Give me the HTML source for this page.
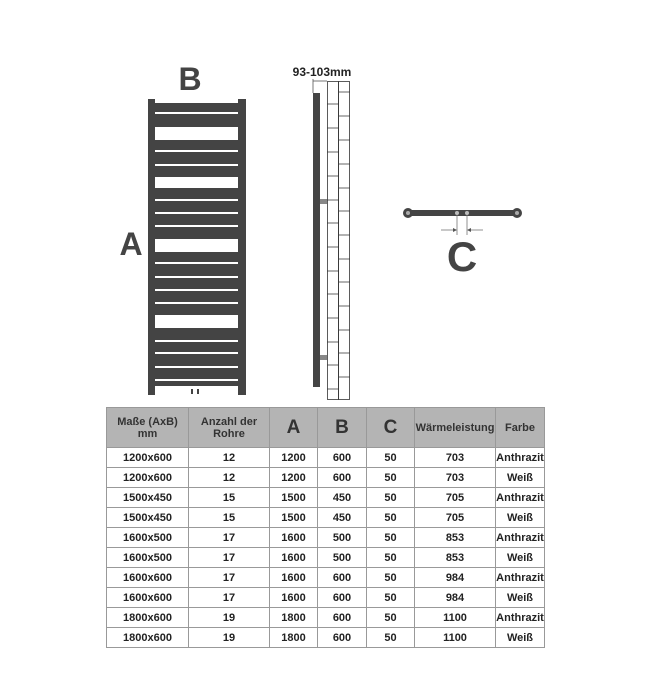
<!DOCTYPE html>
<html><head><style>
body{margin:0;width:650px;height:700px;background:#fff;position:relative;font-family:"Liberation Sans",Arial,sans-serif;overflow:hidden}
table{position:absolute;left:106px;top:407px;border-collapse:collapse;font-weight:bold;font-size:11px;color:#222}
td{border:1px solid #999;text-align:center;padding:0;height:19px}
tr.h td{background:#b4b4b4;height:39px;color:#333}
</style></head><body>
<svg width="650" height="400" style="position:absolute;left:0;top:0">
<g fill="#444" font-family="Liberation Sans,Arial,sans-serif" font-weight="bold">
<text x="190" y="90" font-size="32" text-anchor="middle">B</text>
<text x="131" y="255" font-size="32" text-anchor="middle">A</text>
<text x="462" y="271" font-size="42" text-anchor="middle">C</text>
<text x="322" y="76" font-size="12" fill="#222" text-anchor="middle">93-103mm</text>
</g>
<rect x="148" y="99" width="7" height="296" fill="#444"/>
<rect x="238" y="99" width="8" height="296" fill="#444"/>
<rect x="155" y="103" width="83" height="283" fill="#444"/>
<g fill="#fff">
<rect x="155" y="112" width="83" height="2"/>
<rect x="155" y="127" width="83" height="13"/>
<rect x="155" y="150" width="83" height="2"/>
<rect x="155" y="164" width="83" height="2"/>
<rect x="155" y="177" width="83" height="11"/>
<rect x="155" y="199" width="83" height="2"/>
<rect x="155" y="212" width="83" height="2"/>
<rect x="155" y="225" width="83" height="2"/>
<rect x="155" y="239" width="83" height="13"/>
<rect x="155" y="262" width="83" height="2"/>
<rect x="155" y="276" width="83" height="2"/>
<rect x="155" y="289" width="83" height="2"/>
<rect x="155" y="302" width="83" height="2"/>
<rect x="155" y="315" width="83" height="13"/>
<rect x="155" y="340" width="83" height="2"/>
<rect x="155" y="352" width="83" height="2"/>
<rect x="155" y="366" width="83" height="2"/>
<rect x="155" y="379" width="83" height="2"/>
</g>
<rect x="191" y="389" width="2" height="5" fill="#444"/><rect x="197" y="389" width="2" height="5" fill="#444"/>
<!-- side view -->
<rect x="313" y="93" width="7" height="294" fill="#444"/>
<rect x="320" y="199" width="7" height="5" fill="#888"/>
<rect x="320" y="355" width="7" height="5" fill="#888"/>
<line x1="313" y1="81" x2="327" y2="81" stroke="#555" stroke-width="0.8"/>
<line x1="313" y1="79" x2="313" y2="93" stroke="#555" stroke-width="0.8"/>
<g stroke="#333" stroke-width="0.8" fill="none">
<rect x="327.5" y="81.5" width="11" height="318"/>
<rect x="338.5" y="81.5" width="11" height="318"/>
<path d="M327 104H339M327 128H339M327 152H339M327 176H339M327 200H339M327 223H339M327 247H339M327 271H339M327 294H339M327 318H339M327 342H339M327 365H339M327 389H339"/>
<path d="M339 92H350M339 116H350M339 140H350M339 164H350M339 188H350M339 211H350M339 235H350M339 259H350M339 282H350M339 306H350M339 330H350M339 353H350M339 377H350"/>
</g>
<!-- C view -->
<rect x="405" y="210" width="114" height="6" rx="2" fill="#444"/>
<circle cx="408" cy="213" r="5" fill="#444"/><circle cx="408" cy="213" r="2" fill="#aaa"/>
<circle cx="517" cy="213" r="5" fill="#444"/><circle cx="517" cy="213" r="2" fill="#aaa"/>
<circle cx="457" cy="213" r="2" fill="#bbb"/><circle cx="467" cy="213" r="2" fill="#bbb"/>
<g stroke="#777" stroke-width="0.8"><line x1="457" y1="215" x2="457" y2="235"/><line x1="467" y1="215" x2="467" y2="235"/>
<line x1="441" y1="230" x2="456" y2="230"/><line x1="468" y1="230" x2="483" y2="230"/></g>
<path d="M457 230l-4-2v4z M467 230l4-2v4z" fill="#555"/>
</svg>
<table>
<colgroup><col style="width:82px"><col style="width:81px"><col style="width:48px"><col style="width:49px"><col style="width:48px"><col style="width:81px"><col style="width:49px"></colgroup>
<tr class="h"><td>Maße (AxB)<br>mm</td><td>Anzahl der<br>Rohre</td><td style="font-size:19px">A</td><td style="font-size:19px">B</td><td style="font-size:19px">C</td><td>Wärmeleistung</td><td>Farbe</td></tr>
<tr><td>1200x600</td><td>12</td><td>1200</td><td>600</td><td>50</td><td>703</td><td>Anthrazit</td></tr>
<tr><td>1200x600</td><td>12</td><td>1200</td><td>600</td><td>50</td><td>703</td><td>Weiß</td></tr>
<tr><td>1500x450</td><td>15</td><td>1500</td><td>450</td><td>50</td><td>705</td><td>Anthrazit</td></tr>
<tr><td>1500x450</td><td>15</td><td>1500</td><td>450</td><td>50</td><td>705</td><td>Weiß</td></tr>
<tr><td>1600x500</td><td>17</td><td>1600</td><td>500</td><td>50</td><td>853</td><td>Anthrazit</td></tr>
<tr><td>1600x500</td><td>17</td><td>1600</td><td>500</td><td>50</td><td>853</td><td>Weiß</td></tr>
<tr><td>1600x600</td><td>17</td><td>1600</td><td>600</td><td>50</td><td>984</td><td>Anthrazit</td></tr>
<tr><td>1600x600</td><td>17</td><td>1600</td><td>600</td><td>50</td><td>984</td><td>Weiß</td></tr>
<tr><td>1800x600</td><td>19</td><td>1800</td><td>600</td><td>50</td><td>1100</td><td>Anthrazit</td></tr>
<tr><td>1800x600</td><td>19</td><td>1800</td><td>600</td><td>50</td><td>1100</td><td>Weiß</td></tr>
</table>
</body></html>
